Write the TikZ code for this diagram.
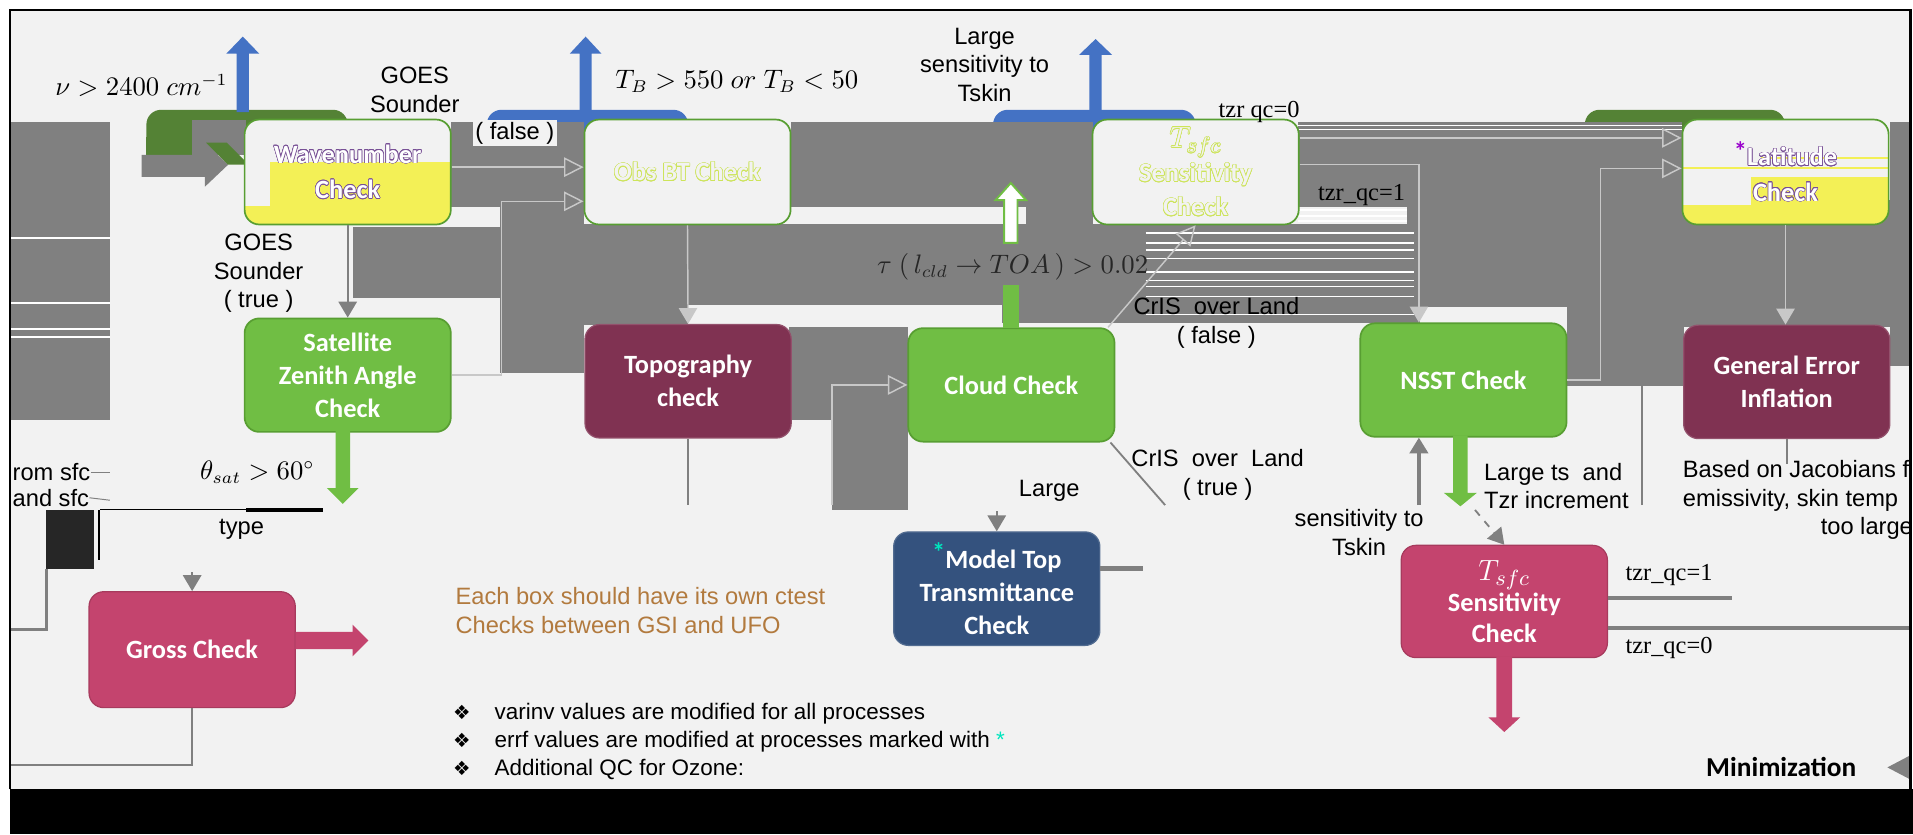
\documentclass[tikz,border=0pt]{standalone}
\usepackage{fontspec}
\setmainfont{Liberation Sans}
\newfontfamily\calfont{Carlito}
\newfontfamily\timesfont{Liberation Serif}
\newfontfamily\symfont{DejaVu Sans}
\usepackage[copies]{contour}
\contourlength{0.25pt}
\usetikzlibrary{arrows.meta,positioning}

\definecolor{bgc}{RGB}{242,242,242}
\definecolor{glitchgray}{RGB}{128,128,128}
\definecolor{okgreen}{RGB}{112,190,68}
\definecolor{okgreenline}{RGB}{88,158,50}
\definecolor{maroonbox}{RGB}{128,50,82}
\definecolor{rosebox}{RGB}{196,68,110}
\definecolor{navybox}{RGB}{52,82,126}
\definecolor{yelbox}{RGB}{243,240,86}
\definecolor{darkgreen}{RGB}{84,130,53}
\definecolor{rejblue}{RGB}{68,114,196}
\definecolor{notecol}{RGB}{178,122,62}
\definecolor{errfmark}{RGB}{0,230,190}
\definecolor{latmark}{RGB}{153,0,204}
\definecolor{linkdark}{RGB}{128,128,128}
\definecolor{linklight}{RGB}{200,200,200}
\definecolor{wavering}{RGB}{120,80,150}
\definecolor{obsring}{RGB}{205,228,90}

\begin{document}
\begin{tikzpicture}[x=0.5pt, y=-0.5pt, >={Triangle[width=7.5pt,length=6.5pt]}]
	\tikzset{
		chk/.style={rounded corners=6pt, minimum width=84.5pt, minimum height=46.5pt, inner sep=0pt, align=center, text=white, font=\calfont\bfseries\fontsize{10.8}{13.5}\selectfont},
		topchk/.style={chk, minimum height=43pt, fill=bgc, draw=okgreenline, line width=0.7pt, font=\calfont\bfseries\fontsize{10.8}{14.5}\selectfont},
		lbl/.style={inner sep=0pt, align=center, font=\fontsize{9.7}{11.75}\selectfont},
		mathlbl/.style={inner sep=0pt, font=\fontsize{10.5}{12}\selectfont},
		qclbl/.style={inner sep=0pt, font=\timesfont\fontsize{10}{12}\selectfont},
		bullet/.style={inner sep=0pt, anchor=west, font=\fontsize{9.2}{11}\selectfont},
		link/.style={draw=linkdark, line width=0.75pt},
		linkin/.style={draw=linklight, line width=0.6pt},
		openhead/.style={-{Triangle[open,width=8pt,length=8pt]}},
	}
	% block arrows: x, tip y, foot y, half shaft, half head, head length, style
	\def\blockup#1#2#3#4#5#6#7{\path[#7] (#1-#4,#3) -- (#1-#4,#2+#6) -- (#1-#5,#2+#6) -- (#1,#2) -- (#1+#5,#2+#6) -- (#1+#4,#2+#6) -- (#1+#4,#3) -- cycle;}
	\def\blockdown#1#2#3#4#5#6#7{\path[#7] (#1-#4,#3) -- (#1-#4,#2-#6) -- (#1-#5,#2-#6) -- (#1,#2) -- (#1+#5,#2-#6) -- (#1+#4,#2-#6) -- (#1+#4,#3) -- cycle;}
	\def\bul{\makebox[17pt][l]{\symfont\fontsize{8}{8}\selectfont ❖}}

	\useasboundingbox (0,0) rectangle (1568,683.6);
	\fill[white] (0,0) rectangle (1568,683.6);

	\begin{scope}
	\clip (8,8) rectangle (1566,647);
	\fill[bgc] (8,8) rectangle (1566,647);

	% --- caps above the first row ---
	\fill[darkgreen, rounded corners=6pt] (120,90) rectangle (285,127);
	\fill[darkgreen] (120,112) rectangle (285,127);
	\fill[glitchgray] (157,98) rectangle (202,127);
	\fill[rejblue, rounded corners=6pt] (399,90) rectangle (564,115);
	\fill[rejblue, rounded corners=6pt] (814,90) rectangle (980,115);
	\fill[darkgreen, rounded corners=6pt] (1299,90) rectangle (1463,115);

	% --- gray bands ---
	\fill[glitchgray] (8,100) rectangle (90,344);
	\foreach \yy in {195,248,270,276}
		\draw[white, line width=0.8pt] (8,\yy) -- (90,\yy);
	\fill[glitchgray] (370,100) rectangle (479,170);
	\fill[glitchgray] (289,186) rectangle (410,244);
	\fill[glitchgray] (410,164) rectangle (479,306);
	\fill[glitchgray] (479,184) rectangle (821,250);
	\fill[glitchgray] (479,250) rectangle (564,266);
	\fill[glitchgray] (648,100) rectangle (896,170);
	\fill[glitchgray] (841,170) rectangle (896,186);
	\fill[glitchgray] (821,184) rectangle (1164,265);
	\fill[glitchgray] (1064,100) rectangle (1379,170);
	\fill[glitchgray] (1153,170) rectangle (1379,184);
	\fill[glitchgray] (1164,164) rectangle (1566,252);
	\fill[glitchgray] (1284,252) rectangle (1380,316);
	\fill[glitchgray] (1380,252) rectangle (1549,268);
	\fill[glitchgray] (1549,100) rectangle (1566,300);
	\fill[glitchgray] (647,268) rectangle (744,344);
	\fill[glitchgray] (682,344) rectangle (744,418);
	\foreach \yy in {191,199,205,212,223,230,235,243,258}
		\draw[white, line width=0.6pt] (939,\yy) -- (1159,\yy);
	\foreach \yy in {172,177,181}
		\draw[white, line width=0.6pt] (1064,\yy) -- (1153,\yy);
	\foreach \yy in {103,106}
		\draw[white, line width=0.5pt] (1064,\yy) -- (1379,\yy);

	% --- gray feed into the first check ---
	\fill[glitchgray] (116,127) -- (168,127) -- (168,117) -- (187,135) -- (168,153) -- (168,145) -- (116,145) -- cycle;
	\fill[darkgreen] (169,117) -- (186,117) -- (201,132) -- (201,135) -- (187,135) -- cycle;

	% --- first row ---
	\node[topchk, fill=yelbox, path picture={
			\fill[bgc, sharp corners] (path picture bounding box.north west) rectangle ([yshift=-17.5pt]path picture bounding box.north east);
			\fill[bgc, sharp corners] ([yshift=-17.5pt]path picture bounding box.north west) rectangle ([xshift=10.5pt,yshift=-35.5pt]path picture bounding box.north west);
		}] (Wave) at (285,141) {\contour{wavering}{Wavenumber}\\\contour{wavering}{Check}};
	\node[topchk, text=bgc] (ObsBT) at (563.5,141) {\contour{obsring}{Obs BT Check}};
	\node[topchk, text=bgc, font=\calfont\bfseries\fontsize{10.8}{14}\selectfont] (TsfcTop) at (980,141)
		{\contour{obsring}{\fontsize{12.5}{12.5}\selectfont$T_{sfc}$}\\\contour{obsring}{Sensitivity}\\\contour{obsring}{Check}};
	\node[topchk, fill=yelbox, path picture={
			\fill[bgc, sharp corners] (path picture bounding box.north west) rectangle ([yshift=-23.5pt]path picture bounding box.north east);
			\fill[bgc, sharp corners] ([yshift=-23.5pt]path picture bounding box.north west) rectangle ([xshift=28pt,yshift=-35pt]path picture bounding box.north west);
			\fill[yelbox, sharp corners] ([xshift=32pt,yshift=-15.2pt]path picture bounding box.north west) rectangle ([yshift=-16pt]path picture bounding box.north east);
			\fill[yelbox, sharp corners] ([yshift=-19.6pt]path picture bounding box.north west) rectangle ([yshift=-20.4pt]path picture bounding box.north east);
		}] (Latitude) at (1463.5,141) {\raisebox{2pt}{\textcolor{latmark}{*}}\contour{wavering}{Latitude}\\\contour{wavering}{Check}};

	% --- second row and below ---
	\node[chk, fill=okgreen, draw=okgreenline, line width=0.7pt] (Sat) at (285,307.5) {Satellite\\Zenith Angle\\Check};
	\node[chk, fill=maroonbox, draw=maroonbox!85!white, line width=0.5pt] (Topo) at (564,312.5) {Topography\\check};
	\node[chk, fill=okgreen, draw=okgreenline, line width=0.7pt] (Cloud) at (829,315.5) {Cloud Check};
	\node[chk, fill=okgreen, draw=okgreenline, line width=0.7pt] (NSST) at (1199.5,311.5) {NSST Check};
	\node[chk, fill=maroonbox, draw=maroonbox!85!white, line width=0.5pt] (GenErr) at (1464.5,313) {General Error\\Inflation};
	\node[chk, fill=rosebox, draw=rosebox!85!black, line width=0.5pt, minimum height=47.5pt] (Gross) at (157.5,532.5) {Gross Check};
	\node[chk, fill=navybox, draw=navybox!85!white, line width=0.5pt] (ModelTop) at (817,482.5) {\raisebox{3pt}{\textcolor{errfmark}{*}}Model Top\\Transmittance\\Check};
	\node[chk, fill=rosebox, draw=rosebox!85!black, line width=0.5pt, minimum height=46pt, font=\calfont\bfseries\fontsize{10.8}{12.8}\selectfont] (TsfcLow) at (1233,493)
		{{\fontsize{13}{13}\selectfont$T_{sfc}$}\\Sensitivity\\Check};

	% --- connectors ---
	\coordinate (bendA) at (411,165);
	\coordinate (bendC) at (1312,138);
	\coordinate (cutLine) at (0,414);
	\coordinate (cutA) at (682,414);
	\coordinate (cutB) at (955,414);
	\coordinate (cutC) at (1346,414);
	\coordinate (cutD) at (1163,414);
	\coordinate (cutE) at (1209,418);
	\coordinate (cutF) at (0,627);
	\coordinate (cutG) at (157.5,469);
	\coordinate (cutH) at (817,419);
	\draw[link, ->] (Wave.south) -- (Sat.north);
	\draw[linkin, openhead] ([yshift=2pt]Wave.east) -- ([yshift=2pt]ObsBT.west);
	\draw[linkin, openhead] (Sat.east) -| (bendA) -- (ObsBT.west |- bendA);
	\draw[linkin, ->] (ObsBT.south) -- (Topo.north);
	\draw[link] (Topo.south) -- (Topo.south |- cutLine);
	\draw[linkin, openhead] (cutA) |- (Cloud.west);
	\draw[linkin, openhead] ([xshift=-3pt]Cloud.north east) -- (TsfcTop.south);
	\draw[link] ([xshift=-2pt]Cloud.south east) -- (cutB);
	\draw[linkin, openhead] ([yshift=14pt]TsfcTop.east) -- ([yshift=14pt]Latitude.west);
	\draw[linkin, ->] ([yshift=3pt]TsfcTop.east) -| ([xshift=-18.25pt]NSST.north);
	\draw[linkin, openhead] (NSST.east) -| (bendC) -- (Latitude.west |- bendC);
	\draw[link, openhead] (cutC) |- ([yshift=-11.5pt]Latitude.west);
	\draw[linkin, ->] (Latitude.south) -- (Latitude.south |- GenErr.north);
	\draw[link] (GenErr.south) -- ++(0,20);
	\draw[link, line width=1.5pt, ->] (cutD) -- (cutD |- NSST.south);
	\draw[link, dashed, ->] (cutE) -- (TsfcLow.north);
	\draw[link, line width=1.5pt] ([yshift=1.5pt]TsfcLow.east) -- ++(102,0);
	\draw[link, line width=1.5pt] ([yshift=-11pt]TsfcLow.east) -- ++(260,0);
	\draw[link, line width=1pt] (Gross.south) |- (cutF);
	\draw[link, ->] (cutG) -- (Gross.north);
	\draw[link, ->] (cutH) -- (ModelTop.north);
	\draw[linkdark, line width=2pt] ([yshift=8.25pt]ModelTop.east) -- ++(35,0);

	% --- block arrows ---
	\blockup{199}{30}{92}{5}{13.5}{14}{fill=rejblue}
	\blockup{480}{30}{92}{5}{13}{14}{fill=rejblue}
	\blockup{898}{32}{92}{5}{13.5}{13}{fill=rejblue}
	\blockdown{281}{413}{353}{6}{13}{13}{fill=okgreen}
	\blockdown{1197}{415}{357}{6}{13.5}{11}{fill=okgreen}
	\blockdown{1233}{600}{538}{6.5}{13}{12}{fill=rosebox}
	\fill[okgreen] (822,234) rectangle (835,269);
	\blockup{828.5}{150}{199}{5.5}{12.5}{14}{fill=white, draw=okgreen, line width=0.8pt}
	\fill[rosebox] (242,518) -- (289,518) -- (289,512) -- (302,525) -- (289,538) -- (289,532) -- (242,532) -- cycle;
	\fill[linkdark] (1547,629) -- (1566,619) -- (1566,639) -- cycle;

	% --- left fragments ---
	\fill[black!85] (38,418) rectangle (77,466);
	\draw[black, line width=1pt] (81,418) -- (81,459);
	\draw[black, line width=0.4pt] (82,418) -- (265,418);
	\draw[black, line width=1.5pt] (202,418) -- (265,418);
	\draw[link, line width=1pt] (38,466) |- (0,516);

	% --- labels ---
	\node[mathlbl] (lblNu) at (116,70) {$\nu > 2400\ cm^{-1}$};
	\node[lbl] (lblGoesF) at (340,73.5) {GOES\\Sounder};
	\node[lbl, fill=bgc, inner sep=1pt] (lblFalseA) at (422,109) {( false )};
	\node[mathlbl] (lblTb) at (604,67) {$T_B > 550\ or\ T_B < 50$};
	\node[lbl] (lblSensTop) at (807,53) {Large\\sensitivity to\\Tskin};
	\node[qclbl] (lblQcZeroTop) at (1032,92) {tzr qc=0};
	\node[qclbl] (lblQcOneTop) at (1116,160) {tzr\_qc=1};
	\node[lbl] (lblGoesT) at (212,224) {GOES\\Sounder\\( true )};
	\node[mathlbl, text=black!85] (lblTau) at (830,219) {$\tau\ (\,l_{cld} \rightarrow TOA\,) > 0.02$};
	\node[lbl] (lblCrisF) at (997,264.5) {CrIS\ \ over Land\\( false )};
	\node[lbl] (lblCrisT) at (998,389) {CrIS\ \ over\ \ Land\\( true )};
	\node[lbl] (lblLarge) at (860,402) {Large};
	\node[lbl, align=left, anchor=west] (lblTs) at (1216,398.5) {Large ts\ \ and\\Tzr increment};
	\node[lbl] (lblSensLow) at (1114,436.5) {sensitivity to\\Tskin};
	\node[lbl, align=left, anchor=west] (lblJac) at (1379,398.5) {Based on Jacobians for\\emissivity, skin temp};
	\node[lbl, anchor=west] (lblTooLarge) at (1492,433) {too large};
	\node[mathlbl] (lblTheta) at (211,387) {$\theta_{sat} > 60^{\circ}$};
	\node[lbl] (lblType) at (198,434) {type};
	\node[lbl, anchor=west] (lblFrom) at (10,387) {rom sfc};
	\node[lbl, anchor=west] (lblAnd) at (10,408) {and sfc};
	\draw[link, line width=0.4pt] (lblFrom.east) -- (90,387);
	\draw[link, line width=0.4pt] (lblAnd.east) -- (90,410);
	\node[qclbl] (lblQcOne) at (1368,471) {tzr\_qc=1};
	\node[qclbl] (lblQcZero) at (1368,531) {tzr\_qc=0};
	\node[lbl, text=notecol, align=left, anchor=west] (lblNote) at (373,500.5) {Each box should have its own ctest\\Checks between GSI and UFO};
	\node[bullet] (lblVarinv) at (371,585) {\bul varinv values are modified for all processes};
	\node[bullet] (lblErrf) at (371,608) {\bul errf values are modified at processes marked with \textcolor{errfmark}{*}};
	\node[bullet] (lblOzone) at (371,631) {\bul Additional QC for Ozone:};
	\node[inner sep=0pt, font=\calfont\bfseries\fontsize{11.2}{13}\selectfont] (lblMin) at (1460,629) {Minimization};
	\end{scope}

	% --- frame and bottom band ---
	\draw[black, line width=1pt] (8,647) -- (8,8) -- (1566,8) -- (1566,647);
	\fill[black] (8,647) rectangle (1568,683.6);
\end{tikzpicture}
\end{document}
